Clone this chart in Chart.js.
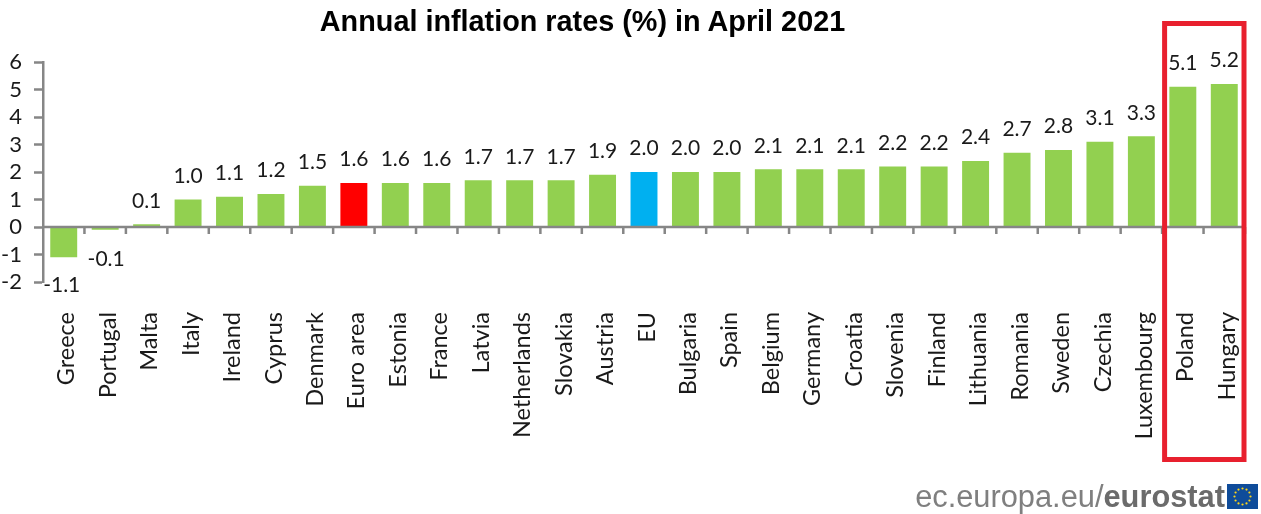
<!DOCTYPE html>
<html>
<head>
<meta charset="utf-8">
<title>Annual inflation rates (%) in April 2021</title>
<script src="https://cdn.jsdelivr.net/npm/chart.js@4"></script>
<style>
  html, body { margin: 0; background: #fff; overflow: hidden; }
  #wrap { position: relative; width: 1261px; height: 514px; }
  #chart { position: absolute; left: 0; top: 0; }
  #title { position: absolute; left: 0; width: 1165px; top: 5px; text-align: center; font: bold 28.8px "Liberation Sans", sans-serif; color: #000; white-space: nowrap; }
  #source { position: absolute; right: 36px; top: 479px; font: 30.8px "Liberation Sans", sans-serif; color: #7f7f7f; white-space: nowrap; }
  #source b { color: #6b6b6b; }
  #flag { position: absolute; left: 1227px; top: 484px; }
</style>
</head>
<body>
<div id="wrap">
  <canvas id="chart" width="1261" height="514"></canvas>
  <div id="title">Annual inflation rates (%) in April 2021</div>
  <div id="source">ec.europa.eu/<b>eurostat</b></div>
  <svg id="flag" width="31" height="25" viewBox="0 0 31 25"></svg>
</div>
<script>
const countries = ['Greece', 'Portugal', 'Malta', 'Italy', 'Ireland', 'Cyprus', 'Denmark', 'Euro area', 'Estonia', 'France',
  'Latvia', 'Netherlands', 'Slovakia', 'Austria', 'EU', 'Bulgaria', 'Spain', 'Belgium', 'Germany', 'Croatia',
  'Slovenia', 'Finland', 'Lithuania', 'Romania', 'Sweden', 'Czechia', 'Luxembourg', 'Poland', 'Hungary'];
const rates = [-1.1, -0.1, 0.1, 1.0, 1.1, 1.2, 1.5, 1.6, 1.6, 1.6,
  1.7, 1.7, 1.7, 1.9, 2.0, 2.0, 2.0, 2.1, 2.1, 2.1,
  2.2, 2.2, 2.4, 2.7, 2.8, 3.1, 3.3, 5.1, 5.2];

const GREEN = '#92d050', RED = '#ff0000', BLUE = '#00b0f0', AXIS = '#868686', INK = '#1a1a1a';
const barColors = countries.map(c => c === 'Euro area' ? RED : c === 'EU' ? BLUE : GREEN);

// EU flag stars
const flag = document.getElementById('flag');
let flagSvg = '<rect width="31" height="25" fill="#0f4c9a"/>';
for (let i = 0; i < 12; i++) {
  const a = i * Math.PI / 6;
  flagSvg += `<circle cx="${15.5 + 8 * Math.cos(a)}" cy="${12.5 + 8 * Math.sin(a)}" r="1.1" fill="#ffd617"/>`;
}
flag.innerHTML = flagSvg;

// zero line with ticks between the categories, since the labels sit at the bottom
const zeroLine = {
  id: 'zeroLine',
  afterDatasetsDraw(chart) {
    const { ctx, scales: { x, y } } = chart;
    const y0 = y.getPixelForValue(0);
    const step = x.getPixelForValue(1) - x.getPixelForValue(0);
    ctx.save();
    ctx.strokeStyle = AXIS;
    ctx.lineWidth = 2.5;
    ctx.beginPath();
    ctx.moveTo(x.left, y0);
    ctx.lineTo(x.right, y0);
    for (let i = 1; i <= countries.length; i++) {
      const tx = x.getPixelForValue(0) - step / 2 + i * step;
      ctx.moveTo(tx, y0);
      ctx.lineTo(tx, y0 + 7);
    }
    ctx.stroke();
    ctx.restore();
  }
};

const valueLabels = {
  id: 'valueLabels',
  afterDatasetsDraw(chart) {
    const { ctx } = chart;
    const bars = chart.getDatasetMeta(0).data;
    ctx.save();
    ctx.fillStyle = INK;
    ctx.font = '21px Lato, sans-serif';
    ctx.textAlign = 'center';
    bars.forEach((bar, i) => {
      const v = rates[i];
      const txt = v.toFixed(1);
      if (v >= 0) {
        ctx.textBaseline = 'bottom';
        ctx.fillText(txt, bar.x, bar.y - 13);
      } else {
        ctx.textBaseline = 'top';
        ctx.fillText(txt, v > -0.5 ? bar.x + 1 : bar.x - 2, bar.y + (v > -0.5 ? 19 : 17));
      }
    });
    ctx.restore();
  }
};

// red box around the two highest countries
const highlightBox = {
  id: 'highlightBox',
  afterDraw(chart) {
    const { ctx, scales: { x } } = chart;
    const step = x.getPixelForValue(1) - x.getPixelForValue(0);
    const left = x.getPixelForValue(27) - step / 2 + 2.5;
    const right = x.getPixelForValue(28) + step / 2 - 1;
    ctx.save();
    ctx.strokeStyle = '#e8202e';
    ctx.lineWidth = 5;
    ctx.strokeRect(left, 23.5, right - left, 436);
    ctx.restore();
  }
};

new Chart(document.getElementById('chart'), {
  type: 'bar',
  data: {
    labels: countries,
    datasets: [{
      data: rates,
      backgroundColor: barColors,
      barPercentage: 0.65,
      categoryPercentage: 1
    }]
  },
  options: {
    responsive: false,
    animation: false,
    layout: { padding: { left: 0, right: 16, top: 62, bottom: 0 } },
    plugins: { legend: { display: false }, title: { display: false }, tooltip: { enabled: false } },
    scales: {
      x: {
        afterFit: s => { s.height = 232; s.paddingLeft = 0; s.paddingRight = 0; },
        grid: { display: false, drawTicks: false },
        border: { display: false },
        ticks: { color: INK, font: { family: 'Lato, sans-serif', size: 23.5 }, minRotation: 90, maxRotation: 90, autoSkip: false, padding: 30, labelOffset: 3 }
      },
      y: {
        min: -2,
        max: 6,
        afterFit: s => { s.width = 43; },
        grid: { drawOnChartArea: false, color: AXIS, tickLength: 9, tickWidth: 2.5 },
        border: { color: AXIS, width: 2.5 },
        ticks: { stepSize: 1, autoSkip: false, color: INK, font: { family: 'Lato, sans-serif', size: 22 }, padding: 12 }
      }
    }
  },
  plugins: [zeroLine, valueLabels, highlightBox]
});
</script>
</body>
</html>
